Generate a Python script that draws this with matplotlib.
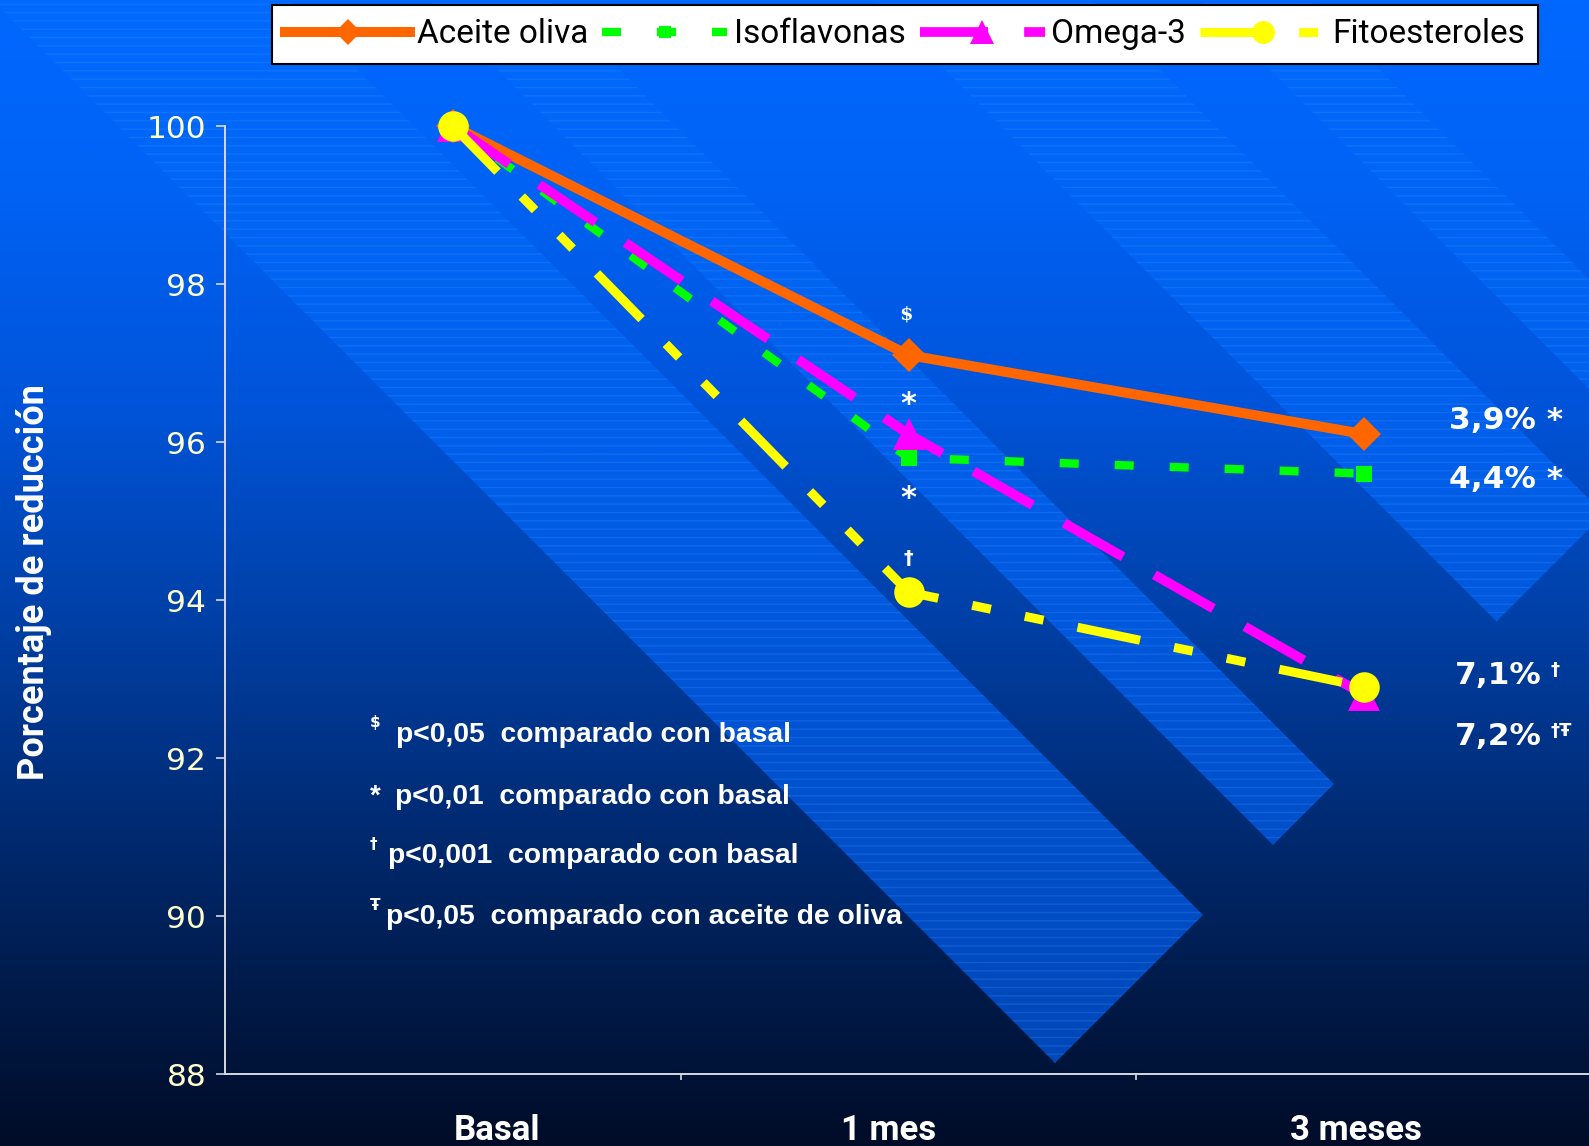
import matplotlib
matplotlib.use('Agg')
import matplotlib.pyplot as plt
import numpy as np
from matplotlib.colors import LinearSegmentedColormap
from matplotlib.patches import Polygon
from matplotlib.transforms import ScaledTranslation

# LDL relativo al valor basal (%)
categorias = ['Basal', '1 mes', '3 meses']
series = ['Aceite oliva', 'Isoflavonas', 'Omega-3', 'Fitoesteroles']
aceite_oliva = [100, 97.1, 96.1]
isoflavonas = [100, 95.8, 95.6]
omega3 = [100, 96.1, 92.8]
fitoesteroles = [100, 94.1, 92.9]

# significacion a los 3 meses
marcas_3m_sufijo = [' *', ' *', '', '']
marcas_3m_super = ['', '', '†Ŧ', '†']

notas = [('\\$', 'p<0,05  comparado con basal'),
         ('*', 'p<0,01  comparado con basal'),
         ('†', 'p<0,001  comparado con basal'),
         ('Ŧ', 'p<0,05  comparado con aceite de oliva')]

W, H = 1589, 1146
NARROW = 'Roboto'

fig = plt.figure(figsize=(W / 100, H / 100), dpi=100)

# fondo degradado con franjas diagonales
bg = fig.add_axes([0, 0, 1, 1])
fondo = LinearSegmentedColormap.from_list('fondo', [
    (0, '#0068ff'), (0.15, '#0063f6'), (0.35, '#0054da'), (0.52, '#0042ac'),
    (0.7, '#002d78'), (0.87, '#001a48'), (1, '#000c28')])
banda = LinearSegmentedColormap.from_list('banda', [
    (0, '#006aff'), (0.4, '#005fea'), (0.65, '#0053d2'), (0.93, '#0047b8'), (1, '#0044b0')])
grad = np.linspace(0, 1, 512).reshape(-1, 1)
bg.imshow(grad, cmap=fondo, extent=(0, W, H, 0), aspect='auto')

franjas = [(-8, 288), (428, 550), (875, 1090), (1200, 1310)]
corte = 2118
for a, b in franjas:
    verts = [(a - 300, -300), ((corte + a) / 2, (corte - a) / 2),
             ((corte + b) / 2, (corte - b) / 2), (b - 300, -300)]
    poly = Polygon(verts, closed=True, facecolor='none', edgecolor='none')
    bg.add_patch(poly)
    im = bg.imshow(grad, cmap=banda, extent=(0, W, H, 0), aspect='auto')
    im.set_clip_path(poly)
    bg.add_patch(Polygon(verts, closed=True, fill=False, hatch='--',
                         edgecolor=(0.3, 0.6, 1.0, 0.22), linewidth=0))
bg.set_xlim(0, W)
bg.set_ylim(H, 0)
bg.axis('off')

ax = fig.add_axes([225 / W, 1 - 1074 / H, 1367 / W, 948 / H])
ax.set_facecolor('none')
x = np.arange(len(categorias))

estilos = [
    dict(color='#ff6600', lw=7.2, ls='-', marker='D', ms=17),
    dict(color='#00ff00', lw=6, ls=(0, (13.7 / 6, 25.9 / 6)), marker='s', ms=12),
    dict(color='#ff00ff', lw=7, ls=(0, (49 / 7, 26 / 7)), marker='^', ms=23),
    dict(color='#ffff00', lw=6.5, ls=(0, (46 / 6.5, 25 / 6.5, 13.7 / 6.5, 25 / 6.5, 13.7 / 6.5, 25 / 6.5)),
         marker='o', ms=22),
]
datos = [aceite_oliva, isoflavonas, omega3, fitoesteroles]
for nombre, valores, est in zip(series, datos, estilos):
    ax.plot(x, valores, mew=0, label=nombre, clip_on=False, **est)

ax.set_xlim(-0.5, 2.5)
ax.set_ylim(88, 100)
ax.set_yticks(range(88, 101, 2))
ax.set_xticks(x, categorias)
ax.set_xticks([0.5, 1.5], minor=True)
for s in ['top', 'right']:
    ax.spines[s].set_visible(False)
for s in ['left', 'bottom']:
    ax.spines[s].set_color('#d8d8e0')
    ax.spines[s].set_linewidth(1.4)
ax.tick_params(axis='y', colors='#d8d8e0', labelcolor='#ffffcc', length=6.5, width=1.2,
               pad=7, labelsize=22.5)
ax.tick_params(axis='x', length=0, pad=29, labelcolor='white', labelsize=25)
ax.tick_params(axis='x', which='minor', length=4.5, width=1.2, color='#d8d8e0')
# las etiquetas del eje x no quedan centradas en la categoria
for lab, off in zip(ax.get_xticklabels(), [44, -20, -8]):
    lab.set_fontfamily(NARROW)
    lab.set_fontweight('bold')
    lab.set_transform(lab.get_transform() + ScaledTranslation(off / 100, 0, fig.dpi_scale_trans))

fig.text(34 / W, 1 - 582 / H, 'Porcentaje de reducción', rotation=90, ha='center', va='center',
         color='white', fontsize=26, fontweight='bold', family=NARROW)

# marcas sobre el punto de 1 mes
ax.annotate('\\$', (1, aceite_oliva[1]), xytext=(-2, 29), textcoords='offset points',
            ha='center', va='center', color='white', fontsize=14, fontweight='bold', family='DejaVu Serif')
ax.annotate('*', (1, omega3[1]), xytext=(0, 21), textcoords='offset points',
            ha='center', va='center', color='white', fontsize=22, fontweight='bold')
ax.annotate('*', (1, isoflavonas[1]), xytext=(0, -29), textcoords='offset points',
            ha='center', va='center', color='white', fontsize=22, fontweight='bold')
ax.annotate('†', (1, fitoesteroles[1]), xytext=(0, 24), textcoords='offset points',
            ha='center', va='center', color='white', fontsize=14, fontweight='bold')

# reduccion final a los 3 meses
desplaz = [(61, 10), (61, -4.3), (65.5, -30), (65.5, 8)]
for valores, suf, sup, (dx, dy) in zip(datos, marcas_3m_sufijo, marcas_3m_super, desplaz):
    red = f'{100 - valores[-1]:.1f}'.replace('.', ',') + '%'
    t = ax.annotate(red + suf, (2, valores[-1]), xytext=(dx, dy), textcoords='offset points',
                    ha='left', va='center', color='white', fontsize=22.5, fontweight='bold')
    if sup:
        ax.annotate(sup, (1, 1), xycoords=t, xytext=(6, 0), textcoords='offset points',
                    ha='left', va='top', color='white', fontsize=13, fontweight='bold')

# notas al pie
nota_x = [396, 395, 388, 386]
nota_y = [735, 797, 856, 917]
for (m, texto), px, py in zip(notas, nota_x, nota_y):
    fig.text(px / W, 1 - py / H, texto, ha='left', va='center', color='white',
             fontsize=20.3, fontweight='bold', family='Liberation Sans')
    if m == '*':
        fig.text(370 / W, 1 - py / H, m, ha='left', va='center', color='white',
                 fontsize=20, fontweight='bold', family='Liberation Sans')
    else:
        fig.text(370 / W, 1 - (py - 12) / H, m, ha='left', va='center', color='white',
                 fontsize=11, fontweight='bold', family='DejaVu Sans')

leg = fig.legend(loc='upper center', bbox_to_anchor=(905 / W, 1 - 5 / H), ncol=4, frameon=True,
                 fancybox=False, facecolor='white', edgecolor='black', framealpha=1,
                 prop={'family': NARROW, 'size': 24}, handlelength=3.75, handletextpad=0.2,
                 columnspacing=0.42, borderpad=0.4, borderaxespad=0, markerscale=0.75)
leg.get_frame().set_linewidth(1.5)

fig.savefig('out.png', dpi=100)
